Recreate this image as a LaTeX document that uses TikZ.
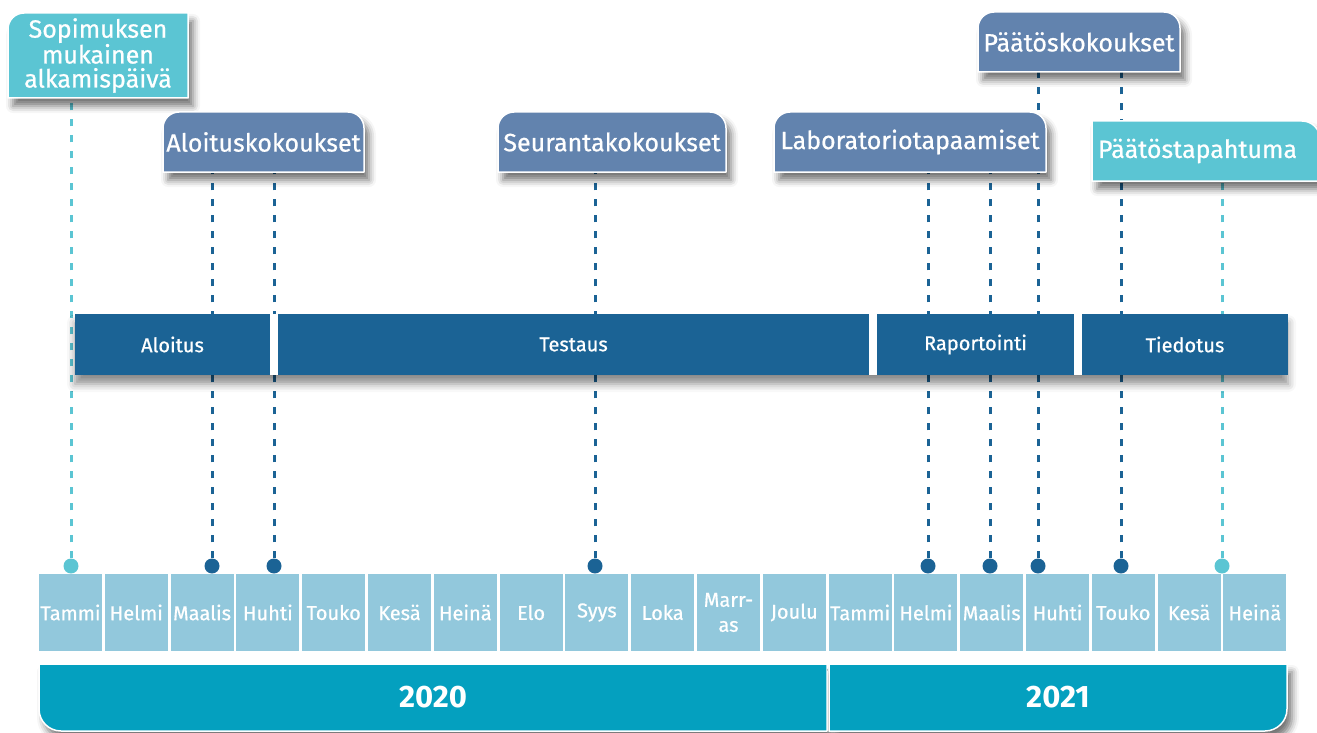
\documentclass[tikz,border=0pt]{standalone}
\usepackage{fontspec}
\setmainfont{Fira Sans}
\newfontfamily\medfont{Fira Sans}[FakeBold=0.7]
\usetikzlibrary{positioning,backgrounds,shadows.blur}

\definecolor{tabblue}{HTML}{6283AE}
\definecolor{tabcyan}{HTML}{5BC5D3}
\definecolor{phaseblue}{HTML}{1B6395}
\definecolor{monthblue}{HTML}{92C8DC}
\definecolor{yearblue}{HTML}{04A0BF}

% box with its own radius at each corner: style, node, nw, ne, se, sw
\newcommand\tabshape[6]{%
  \path[#1] ([yshift=#6]#2.south west) -- ([yshift=-#3]#2.north west)
    arc[start angle=180, end angle=90, radius=#3] -- ([xshift=-#4]#2.north east)
    arc[start angle=90, end angle=0, radius=#4] -- ([yshift=#5]#2.south east)
    arc[start angle=0, end angle=-90, radius=#5] -- ([xshift=#6]#2.south west)
    arc[start angle=270, end angle=180, radius=#6] -- cycle;}

\tikzset{
  tab/.style={text=white, font=\medfont\fontsize{25}{24}\selectfont, inner sep=0pt, outer sep=0pt,
    minimum height=60pt, align=center},
  tabfill/.style={fill=#1, draw=white, line width=1.5pt,
    blur shadow={shadow xshift=5pt, shadow yshift=-8pt, shadow blur radius=7pt, shadow opacity=55}},
  phase/.style={fill=phaseblue, text=white, font=\medfont\fontsize{20}{20}\selectfont,
    minimum height=61pt, inner sep=0pt, outer sep=0pt},
  month/.style={fill=monthblue, text=white, font=\medfont\fontsize{20}{25}\selectfont,
    minimum width=63pt, minimum height=77pt, inner sep=0pt, align=center},
  year/.style={text=white, font=\bfseries\fontsize{31}{31}\selectfont, inner sep=0pt, outer sep=0pt,
    minimum height=67pt},
  dot/.style={circle, fill=#1, minimum size=15pt, inner sep=0pt},
  dline/.style={draw=#1, line width=3pt, dash pattern=on 7pt off 9pt},
}

\begin{document}
\begin{tikzpicture}[x=1pt, y=-1pt]
  \useasboundingbox (0,0) rectangle (1317,733);

  % callouts
  \node[tab, minimum width=180pt, minimum height=85pt] (sop) at (98,55.5) {Sopimuksen\\mukainen\\alkamispäivä};
  \node[tab, minimum width=201pt] (alo) at (263.5,142) {Aloituskokoukset};
  \node[tab, minimum width=228pt] (seu) at (612,142) {Seurantakokoukset};
  \node[tab, minimum width=272pt] (lab) at (910,142) {Laboratoriotapaamiset};
  \node[tab, minimum width=202pt] (paa) at (1079,42) {Päätöskokoukset};
  \node[tab, minimum width=228pt, text width=216pt, align=left] (pt) at (1206,151) {Päätöstapahtuma};

  % phases
  \node[phase, minimum width=195pt] (p1) at (172.5,344.5) {Aloitus};
  \node[phase, minimum width=591pt, right=8pt of p1] (p2) {Testaus};
  \node[phase, minimum width=197pt, right=8pt of p2] (p3) {Raportointi};
  \node[phase, minimum width=206pt, right=8pt of p3] (p4) {Tiedotus};

  % events
  \node[dot=tabcyan] (d1) at (71,566) {};
  \foreach \n/\x in {2/212,3/274,4/595,5/928,6/990,7/1038,8/1121}
    \node[dot=phaseblue] (d\n) at (\x,566) {};
  \node[dot=tabcyan] (d9) at (1222,566) {};

  % months
  \foreach \n/\mname in {0/Tammi,1/Helmi,2/Maalis,3/Huhti,4/Touko,5/Kesä,6/Heinä,7/Elo,8/Syys,9/Loka,
      10/{Marr-\\as},11/Joulu,12/Tammi,13/Helmi,14/Maalis,15/Huhti,16/Touko,17/Kesä,18/Heinä}
    \node[month] (m\n) at ({70.5+65.8*\n},612.5) {\mname};

  % years
  \node[year, minimum width=788pt] (y0) at (433,697.5) {2020};
  \node[year, minimum width=458pt] (y1) at (1058,697.5) {2021};

  \begin{scope}[on background layer]
    \draw[dline=tabcyan] (d1) -- (d1 |- sop.south);
    \draw[dline=phaseblue] (d2) -- (d2 |- alo.south);
    \draw[dline=phaseblue] (d3) -- (d3 |- alo.south);
    \draw[dline=phaseblue] (d4) -- (d4 |- seu.south);
    \draw[dline=phaseblue] (d5) -- (d5 |- lab.south);
    \draw[dline=phaseblue] (d6) -- (d6 |- lab.south);
    \draw[dline=phaseblue] (d7) -- (d7 |- paa.south);
    \draw[dline=phaseblue] (d8) -- (d8 |- paa.south);
    \draw[dline=tabcyan] (d9) -- (d9 |- pt.south);
    \fill[white, blur shadow={shadow xshift=0pt, shadow yshift=-9pt, shadow blur radius=8pt, shadow opacity=45}]
      (p1.north west) rectangle (p4.south east);
    \tabshape{tabfill=tabcyan}{sop}{16pt}{0.1pt}{0.1pt}{0.1pt}
    \tabshape{tabfill=tabblue}{alo}{16pt}{16pt}{0.1pt}{0.1pt}
    \tabshape{tabfill=tabblue}{seu}{16pt}{16pt}{0.1pt}{0.1pt}
    \tabshape{tabfill=tabblue}{lab}{16pt}{16pt}{0.1pt}{0.1pt}
    \tabshape{tabfill=tabblue}{paa}{16pt}{16pt}{0.1pt}{0.1pt}
    \tabshape{tabfill=tabcyan}{pt}{0.1pt}{18pt}{0.1pt}{0.1pt}
    \tabshape{tabfill=yearblue}{y0}{0.1pt}{0.1pt}{0.1pt}{22pt}
    \tabshape{tabfill=yearblue}{y1}{0.1pt}{0.1pt}{22pt}{0.1pt}
  \end{scope}
\end{tikzpicture}
\end{document}
